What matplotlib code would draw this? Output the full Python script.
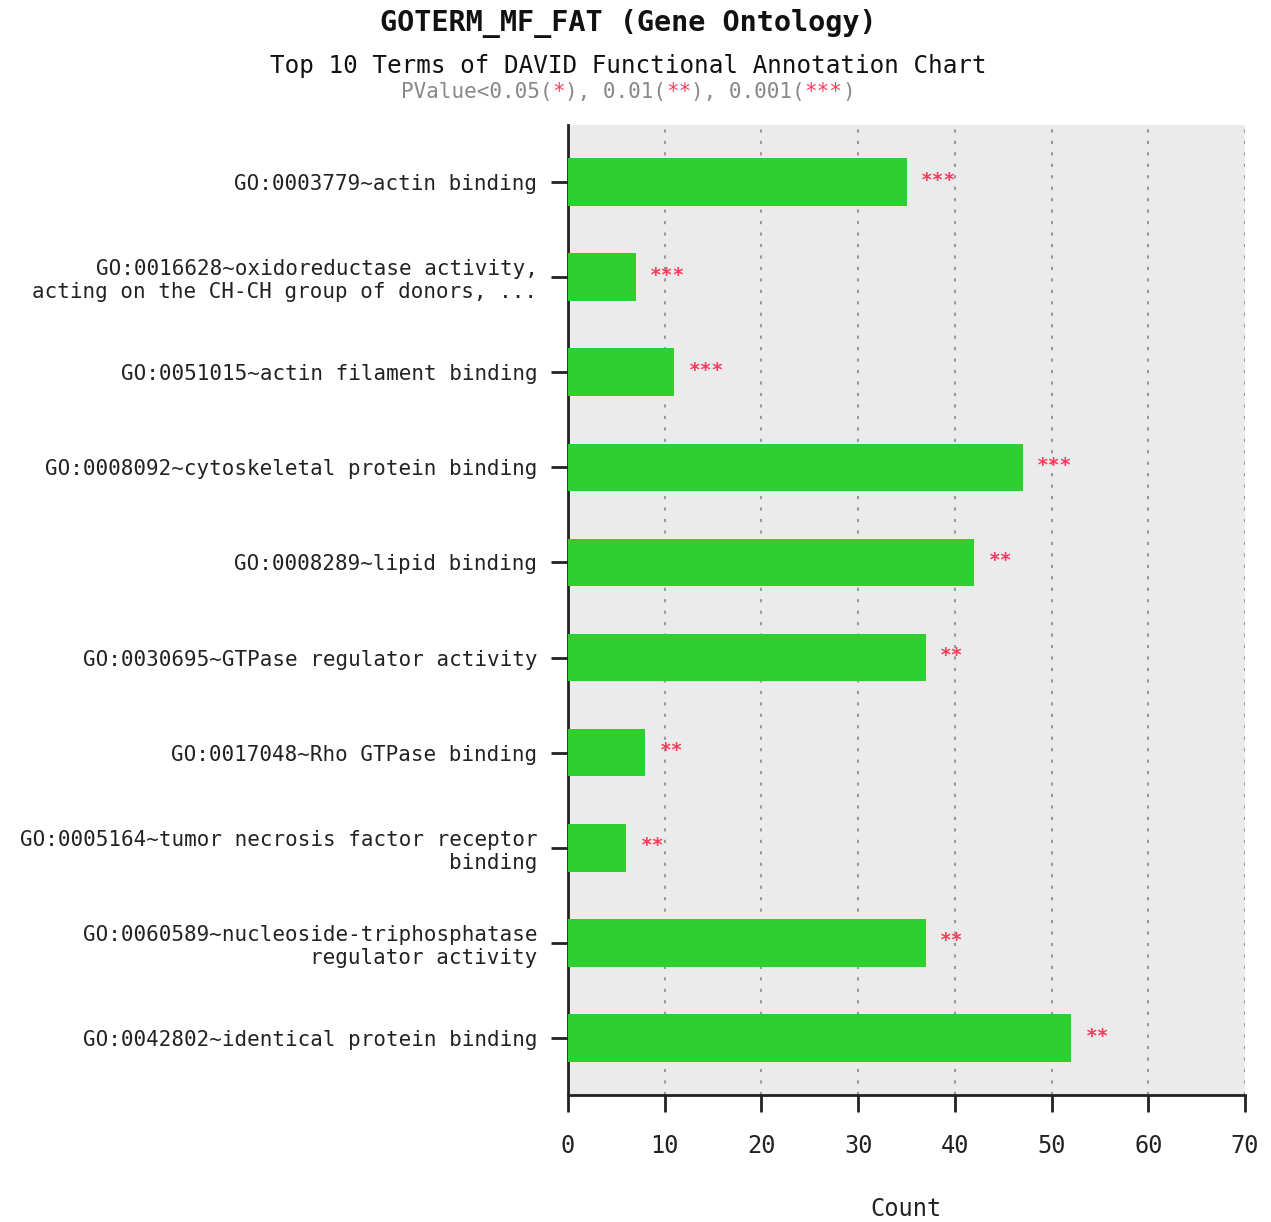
import matplotlib
matplotlib.use("Agg")
import matplotlib.pyplot as plt

terms = [
    "GO:0003779~actin binding",
    "GO:0016628~oxidoreductase activity,\nacting on the CH-CH group of donors, ...",
    "GO:0051015~actin filament binding",
    "GO:0008092~cytoskeletal protein binding",
    "GO:0008289~lipid binding",
    "GO:0030695~GTPase regulator activity",
    "GO:0017048~Rho GTPase binding",
    "GO:0005164~tumor necrosis factor receptor\nbinding",
    "GO:0060589~nucleoside-triphosphatase\nregulator activity",
    "GO:0042802~identical protein binding",
]
counts = [35, 7, 11, 47, 42, 37, 8, 6, 37, 52]
stars = ["***", "***", "***", "***", "**", "**", "**", "**", "**", "**"]
xticks = [0, 10, 20, 30, 40, 50, 60, 70]

mono = ["DejaVu Sans Mono"]
plt.rcParams['font.family'] = mono

fig = plt.figure(figsize=(12.71, 12.22), dpi=100)
ax = fig.add_axes([568/1271, 1-1095/1222, (1245-568)/1271, (1095-125)/1222])
ax.set_facecolor("#ebebeb")

ypos = list(range(len(terms)))
ax.barh(ypos, counts, height=0.5, color="#2ecf2e", zorder=3)
for y, c, s in zip(ypos, counts, stars):
    ax.text(c + 1.5, y - 0.02, s, color="#ff3b5c", fontsize=14, ha="left", va="center",
            fontweight="bold", zorder=4)

ax.set_ylim(9.6, -0.6)
ax.set_xlim(0, 70)
ax.set_xticks(xticks)
ax.set_xticklabels([str(v) for v in xticks], fontsize=17, color="#222222")
ax.set_yticks(ypos)
ax.set_yticklabels(terms, fontsize=15, color="#222222", ha="right", multialignment="right")
ax.xaxis.grid(True, linestyle=(0, (1.5, 4)), color="#999999", linewidth=1.5, zorder=1)
ax.tick_params(axis="x", length=12, width=2, pad=16, color="#222222")
ax.tick_params(axis="y", length=12, width=2, pad=10, color="#222222")
for side in ["top", "right"]:
    ax.spines[side].set_visible(False)
for side in ["left", "bottom"]:
    ax.spines[side].set_linewidth(2)
    ax.spines[side].set_color("#222222")
ax.set_xlabel("Count", fontsize=17, color="#222222", labelpad=28)

fig.text(628/1271, 1-23/1222, "GOTERM_MF_FAT (Gene Ontology)", ha="center", va="center",
         fontsize=20.5, fontweight="bold", color="#111111")
fig.text(628/1271, 1-66/1222, "Top 10 Terms of DAVID Functional Annotation Chart",
         ha="center", va="center", fontsize=17.5, color="#111111")

# PValue legend line with colored stars
parts = [("PValue<0.05(", "#888888"), ("*", "#ff3b5c"), ("), 0.01(", "#888888"),
         ("**", "#ff3b5c"), ("), 0.001(", "#888888"), ("***", "#ff3b5c"), (")", "#888888")]
fig.canvas.draw()
renderer = fig.canvas.get_renderer()
full = "".join(p for p, _ in parts)
tmp = fig.text(0, 0, full, fontsize=15)
w = tmp.get_window_extent(renderer).width
tmp.remove()
x = 628 - w / 2
for p, col in parts:
    fig.text(x / 1271, 1 - 92/1222, p, ha="left", va="center", fontsize=15, color=col)
    x += len(p) * (w / len(full))

fig.savefig("out.png", dpi=100)
